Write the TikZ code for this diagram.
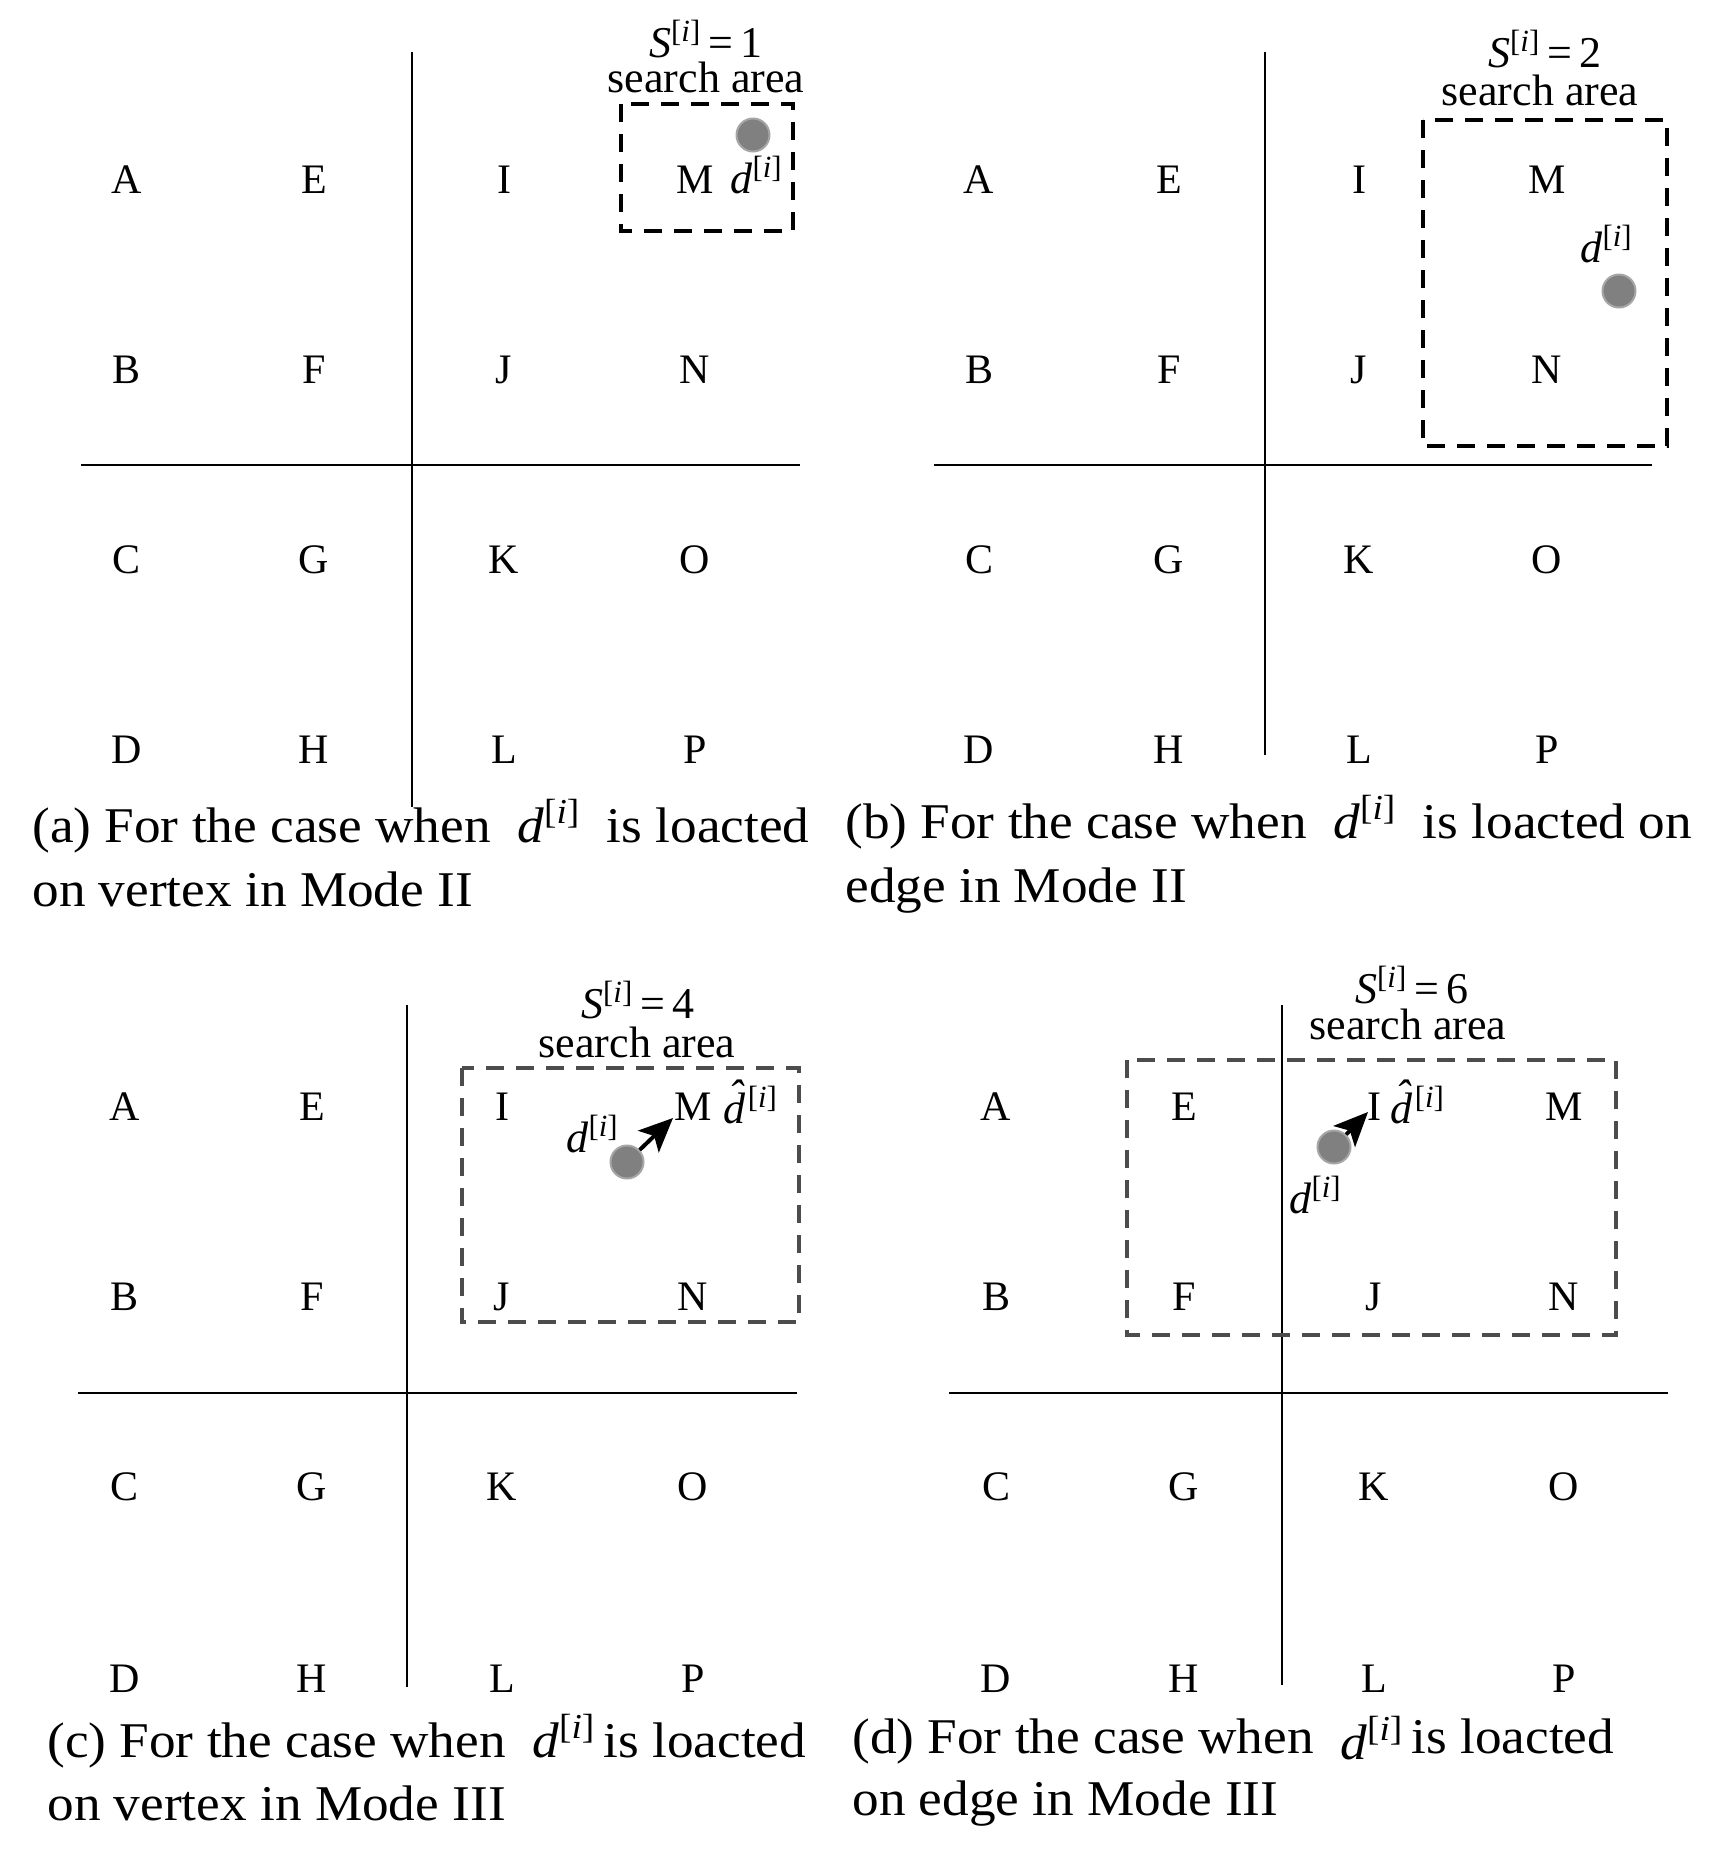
\documentclass[tikz,border=0pt]{standalone}
\usepackage{fontspec}
\setmainfont{Liberation Serif}
\newfontfamily\capfont[FakeStretch=1.065]{Liberation Serif}
\usetikzlibrary{arrows.meta}
\newcommand\dvar{\textit{d}\textsuperscript{[\textit{i}]}}
\newcommand\dhatvar{\textit{d}\kern-0.38em\raisebox{0.28em}{\textit{\char"02C6}}\kern0.06em\textsuperscript{[\textit{i}]}}
\newcommand\Svar[1]{\textit{S}\textsuperscript{[\textit{i}]}\,=\,#1}
\tikzset{
  lbl/.style={font=\fontsize{21}{21}\selectfont, inner sep=0pt},
  caplbl/.style={font=\capfont\fontsize{25}{30}\selectfont, anchor=base west, inner sep=0pt},
  sarea/.style={font=\fontsize{22}{22}\selectfont, inner sep=0pt},
  dlbl/.style={font=\fontsize{22}{22}\selectfont, inner sep=0pt, anchor=base west},
  gridline/.style={line width=0.75pt},
  sbox/.style={line width=1.7pt, dash pattern=on 9pt off 6pt},
  dot/.style={circle, fill=black!50, draw=black!35, line width=1pt, minimum size=16.5pt, inner sep=0pt},
  arr/.style={-{Stealth[length=17pt,width=15pt,inset=4pt]}, line width=2pt}
}
\begin{document}
\begin{tikzpicture}[x=0.5pt,y=-0.5pt]
\useasboundingbox[fill=white] (0,0) rectangle (1736,1860);

% ---------- letter grids ----------
\foreach \P/\cols/\rows in {a/{127,314,504,695}/{180,370,560,750},
                            b/{979,1169,1359,1547}/{180,370,560,750},
                            c/{125,312,502,693}/{1107,1297,1487,1679},
                            d/{996,1184,1374,1564}/{1107,1297,1487,1679}}{
  \foreach \x [count=\ci] in \cols {
    \foreach \y [count=\ri] in \rows {
      \pgfmathtruncatemacro\idx{(\ci-1)*4+\ri}
      \node[lbl] (\P\idx) at (\x,\y) {\char\numexpr64+\idx\relax};
    }
  }
}

% ---------- axes ----------
\coordinate (aT) at (412,52);   \coordinate (aB) at (412,807);
\coordinate (aL) at (81,465);   \coordinate (aR) at (800,465);
\coordinate (bT) at (1265,52);  \coordinate (bB) at (1265,755);
\coordinate (bL) at (934,465);  \coordinate (bR) at (1652,465);
\coordinate (cT) at (407,1005); \coordinate (cB) at (407,1687);
\coordinate (cL) at (78,1393);  \coordinate (cR) at (797,1393);
\coordinate (dT) at (1282,1005);\coordinate (dB) at (1282,1685);
\coordinate (dL) at (949,1393); \coordinate (dR) at (1668,1393);
\foreach \P in {a,b,c,d}{
  \draw[gridline] (\P T) -- (\P B);
  \draw[gridline] (\P L) -- (\P R);
}

% ---------- panel (a) ----------
\draw[sbox] (621,104) rectangle (793,231);
\node[sarea] (aS) at (706,39) {\Svar{1}};
\node[sarea] (aSA) at (706,77) {search area};
\node[dot] (adot) at (753,135) {};
\node[dlbl] (adl) at (730,193) {\dvar};

% ---------- panel (b) ----------
\draw[sbox] (1423,120) rectangle (1667,446);
\node[sarea] (bS) at (1545,49) {\Svar{2}};
\node[sarea] (bSA) at (1540,90) {search area};
\node[dot] (bdot) at (1619,291) {};
\node[dlbl] (bdl) at (1580,262) {\dvar};

% ---------- panel (c) ----------
\draw[sbox, draw=black!70] (462,1068) rectangle (799,1322);
\node[sarea] (cS) at (638,1000) {\Svar{4}};
\node[sarea] (cSA) at (637,1042) {search area};
\node[dot] (cdot) at (627,1162) {};
\node[dlbl] (cdl) at (566,1152) {\dvar};
\coordinate (ctip) at (673,1118);
\draw[arr] (cdot) -- (ctip);
\node[dlbl] (chat) at (723,1123) {\dhatvar};

% ---------- panel (d) ----------
\draw[sbox, draw=black!70] (1127,1060) rectangle (1616,1335);
\node[sarea] (dS) at (1412,985) {\Svar{6}};
\node[sarea] (dSA) at (1408,1024) {search area};
\node[dot] (ddot) at (1334,1147) {};
\node[dlbl] (ddl) at (1289,1213) {\dvar};
\coordinate (dtip) at (1368,1112);
\draw[arr] (ddot) -- (dtip);
\node[dlbl] (dhat) at (1390,1123) {\dhatvar};

% ---------- captions ----------
\node[caplbl] (capa1) at (32,842) {(a) For the case when\ \ \dvar\ \ is loacted};
\node[caplbl] (capa2) at (32,906) {on vertex in Mode II};
\node[caplbl] (capb1) at (845,838) {(b) For the case when\ \ \dvar\ \ is loacted on};
\node[caplbl] (capb2) at (845,902) {edge in Mode II};
\node[caplbl] (capc1) at (47,1757) {(c) For the case when\ \ \dvar\,is loacted};
\node[caplbl] (capc2) at (47,1820) {on vertex in Mode III};
\node[caplbl] (capd1) at (852,1753) {(d) For the case when\ \ \raisebox{-0.12em}{\dvar}\,is loacted};
\node[caplbl] (capd2) at (852,1815) {on edge in Mode III};
\end{tikzpicture}
\end{document}
